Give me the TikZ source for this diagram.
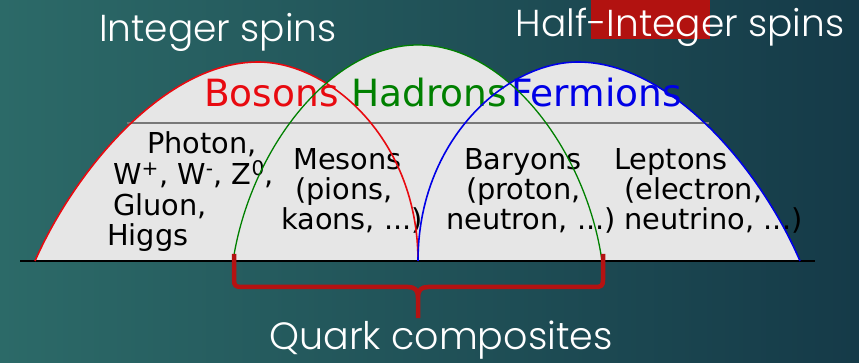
\documentclass[tikz,border=0pt]{standalone}
\usepackage{fontspec}
\setmainfont{DejaVu Sans}
\newfontfamily\titlefont{Poppins Light}
\definecolor{bgL}{RGB}{44,106,104}
\definecolor{bgR}{RGB}{21,58,72}
\definecolor{redC}{RGB}{232,10,16}
\definecolor{greenC}{RGB}{0,128,0}
\definecolor{blueC}{RGB}{0,0,230}
\definecolor{fillC}{RGB}{230,230,230}
\definecolor{rectC}{RGB}{178,18,16}
\definecolor{braceC}{RGB}{180,18,18}
\definecolor{lineC}{RGB}{120,120,120}
\begin{document}
\begin{tikzpicture}[x=1pt,y=-1pt,
  titletext/.style={font=\titlefont\fontsize{37.5}{42}\selectfont, text=white, inner sep=0, anchor=base},
  headtext/.style={font=\fontsize{37.5}{40}\selectfont, inner sep=0, anchor=base west},
  bodytext/.style={font=\fontsize{28.8}{31}\selectfont, inner sep=0, anchor=base west, text=black},
  archline/.style={line width=1.6pt},
  bracepath/.style={draw=braceC, line width=4.5pt, line join=round}]
\useasboundingbox (0,0) rectangle (859,363);
\fill[left color=bgL, right color=bgR] (0,0) rectangle (859,363);
% fills
\fill[fillC] (35,261) .. controls (75,170) and (165,62) .. (258,62) .. controls (330,62) and (418,140) .. (418,261) -- cycle;
\fill[fillC] (233,261) .. controls (250,150) and (330,45) .. (418,45) .. controls (506,45) and (586,150) .. (602,261) -- cycle;
\fill[fillC] (418,261) .. controls (418,140) and (506,62) .. (578,62) .. controls (671,62) and (761,170) .. (800,261) -- cycle;
% gray divider and baseline
\coordinate (gl) at (127,123);
\coordinate (gr) at (709,123);
\draw[lineC, line width=1.4pt] (gl) -- (gr);
\coordinate (bl) at (20,261.5);
\coordinate (br) at (815,261.5);
\draw[black, line width=2pt] (bl) -- (br);
% red rectangle behind title
\fill[rectC] (591,0) rectangle (710,39);
% titles
\node[titletext] (tint) at (218,42) {Integer spins};
\node[titletext] (thalf) at (680,37) {Half-Integer spins};
\node[titletext, font=\titlefont\fontsize{38}{42}\selectfont] (tquark) at (441,349) {Quark composites};
% headers
\node[headtext, text=redC] (hbos) at (204,107) {Bosons};
\node[headtext, text=greenC] (hhad) at (351,107) {Hadrons};
\node[headtext, text=blueC] (hfer) at (511,107) {Fermions};
% body
\node[bodytext] (b1) at (147,154) {Photon,};
\node[bodytext] (b2) at (113,185) {W\textsuperscript{+}, W\textsuperscript{-}, Z\textsuperscript{0},};
\node[bodytext] (b3) at (113,216) {Gluon,};
\node[bodytext] (b4) at (107,246) {Higgs};
\node[bodytext] (m1) at (293,170) {Mesons};
\node[bodytext] (m2) at (295,200) {(pions,};
\node[bodytext] (m3) at (281,230) {kaons, ...)};
\node[bodytext] (y1) at (464,170) {Baryons};
\node[bodytext] (y2) at (466,200) {(proton,};
\node[bodytext] (y3) at (446,230) {neutron, ...)};
\node[bodytext] (l1) at (614,170) {Leptons};
\node[bodytext] (l2) at (624,200) {(electron,};
\node[bodytext] (l3) at (624,230) {neutrino, ...)};
% arcs
\draw[archline, redC] (35,261) .. controls (75,170) and (165,62) .. (258,62) .. controls (330,62) and (418,140) .. (418,261);
\draw[archline, greenC, line width=1.3pt] (233,261) .. controls (250,150) and (330,45) .. (418,45) .. controls (506,45) and (586,150) .. (602,261);
\draw[archline, blueC] (418,261) .. controls (418,140) and (506,62) .. (578,62) .. controls (671,62) and (761,170) .. (800,261);
% brace
\draw[bracepath] (234,254) -- (234,280) .. controls (234,286) and (236,287) .. (242,287) -- (408,287) .. controls (415,287) and (418,290) .. (418,298) -- (418,318);
\draw[bracepath] (603,254) -- (603,280) .. controls (603,286) and (601,287) .. (595,287) -- (428,287) .. controls (421,287) and (418,290) .. (418,298);
\end{tikzpicture}
\end{document}
